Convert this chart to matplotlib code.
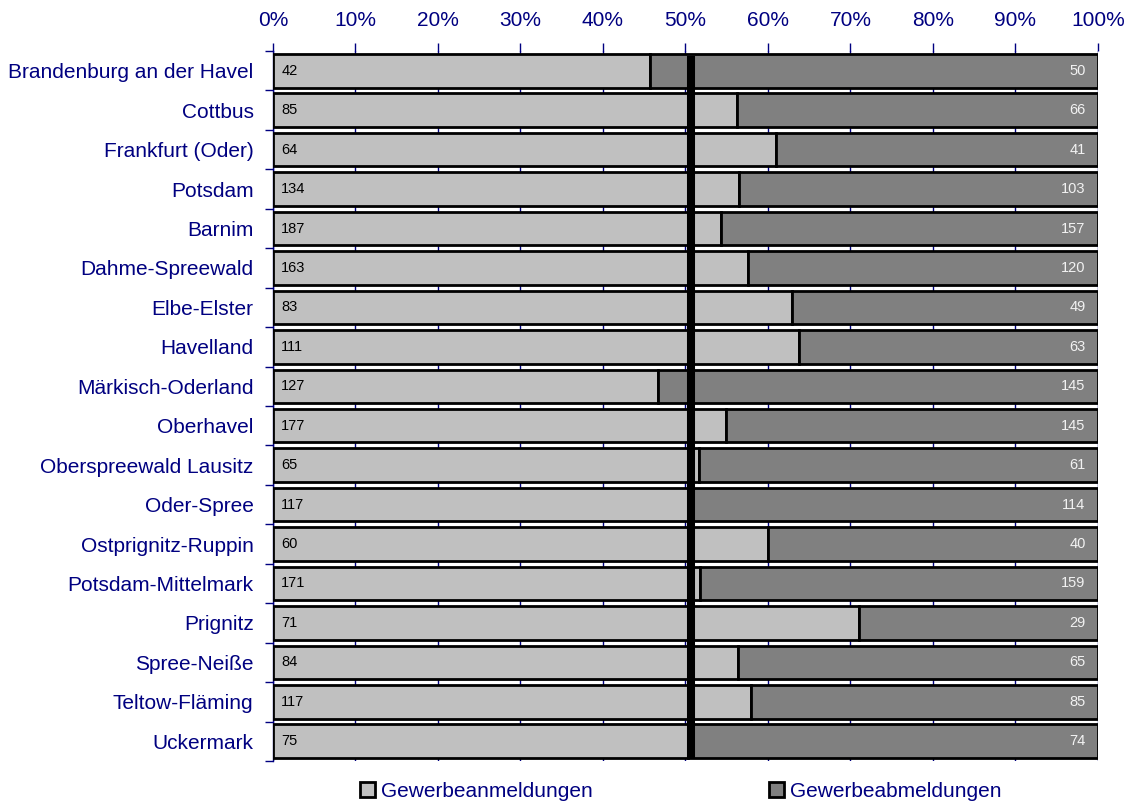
import matplotlib.pyplot as plt
from matplotlib.patches import Patch
import numpy as np

# Kreise und kreisfreie Städte
regions = [
    "Brandenburg an der Havel", "Cottbus", "Frankfurt (Oder)", "Potsdam",
    "Barnim", "Dahme-Spreewald", "Elbe-Elster", "Havelland",
    "Märkisch-Oderland", "Oberhavel", "Oberspreewald Lausitz", "Oder-Spree",
    "Ostprignitz-Ruppin", "Potsdam-Mittelmark", "Prignitz", "Spree-Neiße",
    "Teltow-Fläming", "Uckermark",
]
anmeldungen = [42, 85, 64, 134, 187, 163, 83, 111, 127, 177, 65, 117, 60, 171, 71, 84, 117, 75]
abmeldungen = [50, 66, 41, 103, 157, 120, 49, 63, 145, 145, 61, 114, 40, 159, 29, 65, 85, 74]
marker_pct = 50.7
xticks = list(range(0, 101, 10))

navy = "#000080"
light = "#C0C0C0"
dark = "#808080"

plt.rcParams["font.family"] = ["Liberation Sans", "DejaVu Sans"]

an = np.array(anmeldungen, dtype=float)
ab = np.array(abmeldungen, dtype=float)
tot = an + ab
an_pct = an / tot * 100
ab_pct = ab / tot * 100
y = np.arange(len(regions))

fig = plt.figure(figsize=(11.29, 8.05), dpi=100)
ax = fig.add_axes([0.2418, 0.0547, 0.7307, 0.8819])

h = 0.85
ax.barh(y, an_pct, height=h, color=light, edgecolor="black", linewidth=2, zorder=3)
ax.barh(y, ab_pct, left=an_pct, height=h, color=dark, edgecolor="black", linewidth=2, zorder=3)

# Wertbeschriftungen
for i in range(len(regions)):
    ax.text(1.0, y[i], str(anmeldungen[i]), ha="left", va="center", fontsize=10.5, color="black", zorder=5)
    ax.text(98.5, y[i], str(abmeldungen[i]), ha="right", va="center", fontsize=10.5, color="#F2F2F2", zorder=5)

# dicke schwarze Linie
ax.vlines(marker_pct, -0.38, len(regions) - 0.58, colors="black", linewidth=5.8, zorder=4)

ax.set_xlim(0, 100)
ax.set_ylim(len(regions) - 0.5, -0.5)

ax.xaxis.tick_top()
ax.set_xticks(xticks)
ax.set_xticklabels([f"{t}%" for t in xticks], fontsize=15, color=navy)
ax.tick_params(axis="x", direction="out", length=6, width=1, color=navy, pad=9)
ax.grid(axis="x", color=navy, linewidth=1, zorder=0)

ax.set_yticks(y)
ax.set_yticklabels(regions, fontsize=15, color=navy)
ax.set_yticks(np.arange(-0.5, len(regions)), minor=True)
ax.tick_params(axis="y", which="major", length=0, pad=14)
ax.tick_params(axis="y", which="minor", length=6, width=1, color=navy, direction="out")

for s in ["top", "right", "bottom"]:
    ax.spines[s].set_visible(False)
ax.spines["left"].set_color(navy)
ax.spines["left"].set_linewidth(1)

handles = [
    Patch(facecolor=light, edgecolor="black", linewidth=2, label="Gewerbeanmeldungen"),
    Patch(facecolor=dark, edgecolor="black", linewidth=2, label="Gewerbeabmeldungen"),
]
leg = fig.legend(handles=handles, loc="center", bbox_to_anchor=(0.603, 0.017), ncol=2,
                 frameon=False, fontsize=15, handlelength=0.72, handleheight=0.72,
                 handletextpad=0.25, columnspacing=8.5, borderpad=0)
for t in leg.get_texts():
    t.set_color(navy)

fig.savefig("out.png", dpi=100)
